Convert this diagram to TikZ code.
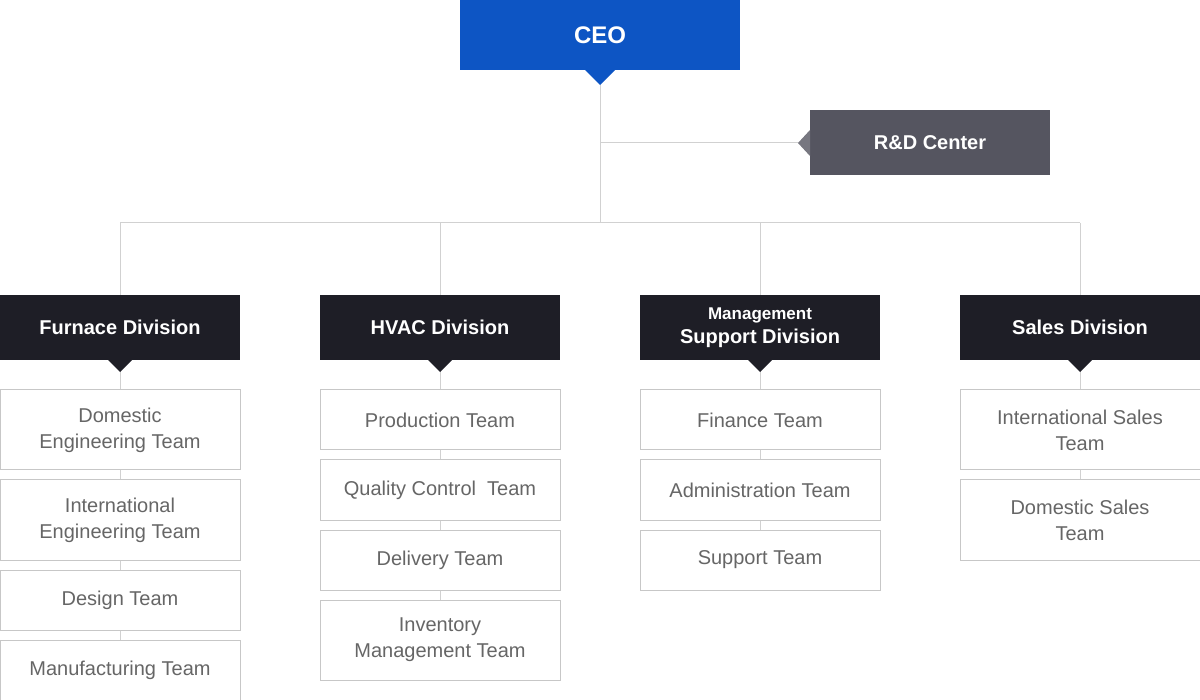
\documentclass[tikz,border=0pt]{standalone}
\usepackage{fontspec}
\setmainfont{Liberation Sans}
\begin{document}
\begin{tikzpicture}[x=1pt,y=-1pt,
  ln/.style={draw=black!18,line width=1pt},
  team/.style={draw=black!22,fill=white,line width=1pt,text=black!60,font=\fontsize{20}{26}\selectfont,align=center,inner sep=0pt},
  divi/.style={fill=black!87!blue!60!black,text=white,font=\bfseries\fontsize{20}{24}\selectfont,align=center,inner sep=0pt},
]
\definecolor{divc}{HTML}{1E1E26}
\definecolor{ceoc}{HTML}{0D55C4}
\definecolor{rdc}{HTML}{555560}
\useasboundingbox (0,0) rectangle (1200,700);
% lines
\coordinate (top) at (600,85);
\coordinate (mid) at (600,143);
\coordinate (bus) at (600,223);
\draw[ln] (top) -- (bus);
\draw[ln] (mid) -- (798,143);
\draw[ln] (120,223) -- (1080,223);
\foreach \x in {120,440,760,1080}{\draw[ln] (\x,223) -- (\x,295); \draw[ln] (\x,360) -- (\x,560);}
\draw[ln] (120,560) -- (120,670);
\draw[ln] (440,560) -- (440,640);
% CEO
\node[fill=ceoc,text=white,font=\bfseries\fontsize{24}{28}\selectfont,minimum width=280pt,minimum height=70pt,inner sep=0pt] (ceo) at (600,35) {CEO};
\fill[ceoc] (585,70) -- (615,70) -- (600,85) -- cycle;
% R&D
\node[fill=rdc,text=white,font=\bfseries\fontsize{20}{24}\selectfont,minimum width=240pt,minimum height=65pt,inner sep=0pt] (rd) at (930,142.5) {R\&D Center};
\fill[rdc!80] (810,130) -- (810,156) -- (798,143) -- cycle;
% divisions
\foreach \x/\n/\t in {120/fd/Furnace Division,440/hd/HVAC Division,760/md/{\fontsize{17}{24}\selectfont Management\\Support Division},1080/sd/Sales Division}{
  \node[fill=divc,text=white,font=\bfseries\fontsize{20}{24}\selectfont,align=center,minimum width=240pt,minimum height=65pt,inner sep=0pt] (\n) at (\x,327.5) {\t};
  \fill[divc] (\x-12,360) -- (\x+12,360) -- (\x,372) -- cycle;
}
% teams
\newcommand{\tm}[5]{\node[team,minimum width=240pt,minimum height=#4pt] (#1) at (#2,#3) {#5};}
\tm{f1}{120}{430}{80}{Domestic\\Engineering Team}
\tm{f2}{120}{520}{80}{International\\Engineering Team}
\tm{f3}{120}{600}{60}{Design Team}
\tm{f4}{120}{670}{60}{Manufacturing Team}
\tm{h1}{440}{420}{60}{Production Team}
\tm{h2}{440}{490}{60}{Quality Control\ \ Team}
\tm{h3}{440}{560}{60}{Delivery Team}
\tm{h4}{440}{640}{80}{Inventory\\Management Team}
\tm{m1}{760}{420}{60}{Finance Team}
\tm{m2}{760}{490}{60}{Administration Team}
\tm{m3}{760}{560}{60}{Support Team}
\tm{s1}{1080}{430}{80}{International Sales\\Team}
\tm{s2}{1080}{520}{80}{Domestic Sales\\Team}
\end{tikzpicture}
\end{document}
